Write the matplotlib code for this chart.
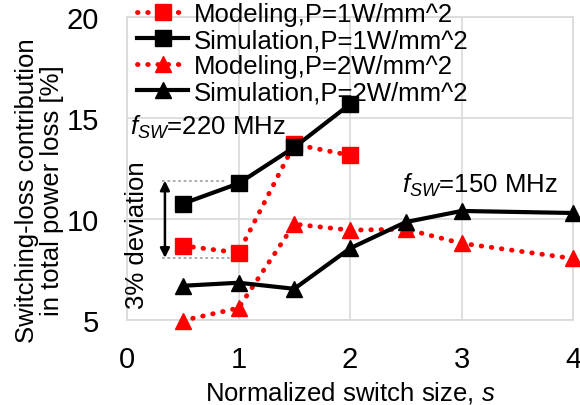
import matplotlib.pyplot as plt

plt.rcParams['font.family'] = ['Liberation Sans', 'DejaVu Sans']
plt.rcParams['mathtext.fontset'] = 'custom'
plt.rcParams['mathtext.rm'] = 'Liberation Sans'
plt.rcParams['mathtext.it'] = 'Liberation Sans:italic'

# data
s_1w = [0.5, 1, 1.5, 2]
model_1w = [8.68, 8.33, 13.7, 13.15]
sim_1w = [10.76, 11.76, 13.55, 15.68]

s_2w = [0.5, 1, 1.5, 2, 2.5, 3, 4]
model_2w = [4.98, 5.6, 9.75, 9.45, 9.5, 8.8, 8.05]
sim_2w = [6.7, 6.85, 6.55, 8.55, 9.85, 10.4, 10.3]

labels = ['Modeling,P=1W/mm^2', 'Simulation,P=1W/mm^2',
          'Modeling,P=2W/mm^2', 'Simulation,P=2W/mm^2']

fig = plt.figure(figsize=(5.8, 4.06), dpi=100)
ax = fig.add_axes([0.219, 0.209, 0.769, 0.747])

dot = (0, (0.1, 2.0))
red = '#ff0000'
ax.plot(s_1w, model_1w, color=red, ls=dot, lw=3.5, dash_capstyle='round',
        marker='s', ms=11, label=labels[0], clip_on=False, zorder=3)
ax.plot(s_1w, sim_1w, color='black', lw=3, marker='s', ms=11,
        label=labels[1], clip_on=False, zorder=4)
ax.plot(s_2w, model_2w, color=red, ls=dot, lw=3.5, dash_capstyle='round',
        marker='^', ms=11, label=labels[2], clip_on=False, zorder=3)
ax.plot(s_2w, sim_2w, color='black', lw=3, marker='^', ms=11,
        label=labels[3], clip_on=False, zorder=4)

ax.set_xlim(0, 4)
ax.set_ylim(5, 20)
ax.set_xticks([0, 1, 2, 3, 4])
ax.set_yticks([5, 10, 15, 20])
ax.tick_params(labelsize=21, length=0)
ax.tick_params(axis='y', pad=20)
ax.tick_params(axis='x', pad=18)
ax.grid(True, color='#d9d9d9', lw=1.2)
ax.set_axisbelow(True)
for sp in ax.spines.values():
    sp.set_color('#d9d9d9')
    sp.set_linewidth(1.2)

ax.set_xlabel('Normalized switch size, $s$', fontsize=18.5, labelpad=4)
ax.set_ylabel('Switching-loss contribution\nin total power loss [%]',
              fontsize=18.5, linespacing=1.05)
ax.yaxis.set_label_coords(-0.141, 0.43)

# deviation annotation
ax.plot([0.31, 0.88], [11.9, 11.9], color='#a6a6a6', ls=(0, (1.5, 1.5)), lw=1.3)
ax.plot([0.31, 0.92], [8.08, 8.08], color='#a6a6a6', ls=(0, (1.5, 1.5)), lw=1.3)
ax.annotate('', xy=(0.34, 11.9), xytext=(0.34, 8.08),
            arrowprops=dict(arrowstyle='<|-|>', color='black', lw=1.8,
                            mutation_scale=14, shrinkA=0, shrinkB=0))
ax.text(0.09, 9.26, '3% deviation', rotation=90, fontsize=18.5,
        ha='center', va='center')

ax.text(0.03, 14.24, '$f_{SW}$=220 MHz', fontsize=18.5, va='baseline')
ax.text(2.47, 11.36, '$f_{SW}$=150 MHz', fontsize=18.5, va='baseline')

ax.legend(loc='upper left', bbox_to_anchor=(0.236, 0.992),
          bbox_transform=fig.transFigure, frameon=False, fontsize=18.5,
          borderpad=0, labelspacing=0.08, handlelength=2.0,
          handletextpad=0.2, borderaxespad=0)

fig.savefig('out.png', dpi=100)
